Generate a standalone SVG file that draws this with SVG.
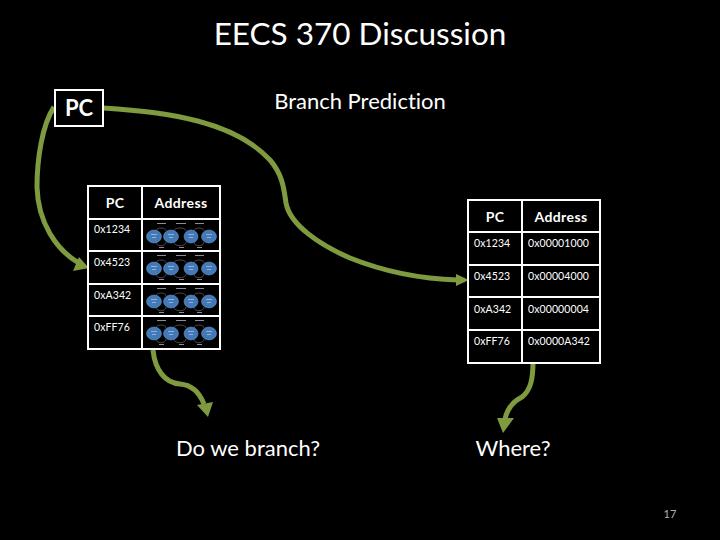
<svg xmlns="http://www.w3.org/2000/svg" width="720" height="540" viewBox="0 0 720 540">
<style>
text{font-family:"Lato","Carlito","Liberation Sans",sans-serif;fill:#fff;font-variant-ligatures:none}
.g{fill:none;stroke:#7f9a3f;stroke-width:5}
.h{fill:#7f9a3f}
.t{fill:none;stroke:#fff;stroke-width:2}
.big{font-size:22px}
.title{font-size:31.500px}
.hd{font-size:14px;font-weight:700;letter-spacing:.4px}
.c{font-size:10.500px;letter-spacing:.1px}
.e{fill:#4479b8;stroke:#6f9fd6;stroke-width:.5}
.l{fill:none;stroke:#70757c;stroke-width:.6}
.d{fill:#8b8f95}
.p{fill:#8fb2d8}
.n{font-size:11px;fill:#b0b0b0}
</style>
<defs>
<g id="fsm">
<path class="l" d="M11 5C11 1 21 1 21 5M29 5C29 1 41 1 41 5M49 5C49 1 59 1 59 5M11 16C11 21 21 21 21 16M29 16C29 21 41 21 41 16M49 16C49 21 59 21 59 16"/>
<ellipse class="e" cx="9" cy="10.500" rx="7.500" ry="6.500"/>
<ellipse class="e" cx="26" cy="10.500" rx="7.500" ry="6.500"/>
<ellipse class="e" cx="46" cy="10.500" rx="7" ry="6.500"/>
<ellipse class="e" cx="64" cy="10.500" rx="7.500" ry="6.500"/>
<rect class="p" x="6" y="8" width="6" height="1"/><rect class="p" x="7" y="11" width="4" height="1"/>
<rect class="p" x="23" y="8" width="6" height="1"/><rect class="p" x="24" y="11" width="4" height="1"/>
<rect class="p" x="43" y="8" width="6" height="1"/><rect class="p" x="44" y="11" width="4" height="1"/>
<rect class="p" x="61" y="8" width="6" height="1"/><rect class="p" x="62" y="11" width="4" height="1"/>
<rect class="d" x="12" y="-3" width="9" height="1"/><rect class="d" x="31" y="-3" width="10" height="1"/><rect class="d" x="50" y="-3" width="9" height="1"/>
<rect class="d" x="14" y="21" width="5" height="1"/><rect class="d" x="34" y="21" width="5" height="1"/><rect class="d" x="52" y="21" width="5" height="1"/>
</g>
</defs>
<rect width="720" height="540" fill="#000"/>
<text class="title" x="360" y="45" text-anchor="middle">EECS 370 Discussion</text>
<text class="big" x="360" y="109" text-anchor="middle">Branch Prediction</text>
<g id="connectors">
<path class="g" d="M103 108C170 112 235 122 270 160C283 175 284 190 286 203C290 225 320 245 350 258C385 272 425 279 458 280"/>
<path class="h" d="M469 280L456 274L456 286Z"/>
<path class="g" d="M54 107C42 125 37 160 37 187C38 222 56 250 79 263"/>
<path class="h" d="M89 268L73 271L79 257Z"/>
<path class="g" d="M153 350C155 370 165 383 180 384C193 385 200 394 204 404"/>
<path class="h" d="M208 417L197 405L213 402Z"/>
<path class="g" d="M533 362C533 378 531 390 522 397C512 402 507 410 505 419"/>
<path class="h" d="M503 433L497 418L514 418Z"/>
</g>
<g id="pc-box"><rect class="t" x="55" y="90" width="48" height="36"/><text class="big" x="79" y="116" text-anchor="middle" font-weight="700">PC</text></g>
<g id="table-left">
<path class="t" d="M88 186H220V349H88ZM142 186V349M88 219H220M88 251H220M88 284H220M88 316H220"/>
<use href="#fsm" x="145" y="226"/><use href="#fsm" x="145" y="258"/><use href="#fsm" x="145" y="291"/><use href="#fsm" x="145" y="323"/>
<text class="hd" x="115" y="208" text-anchor="middle">PC</text>
<text class="hd" x="181" y="208" text-anchor="middle">Address</text>
<text class="c" x="94" y="233">0x1234</text>
<text class="c" x="94" y="266">0x4523</text>
<text class="c" x="94" y="299">0xA342</text>
<text class="c" x="94" y="331">0xFF76</text>
</g>
<g id="table-right">
<path class="t" d="M468 200H600V363H468ZM522 200V363M468 232H600M468 265H600M468 297H600M468 330H600"/>
<text class="hd" x="495" y="222" text-anchor="middle">PC</text>
<text class="hd" x="561" y="222" text-anchor="middle">Address</text>
<text class="c" x="474" y="247">0x1234</text>
<text class="c" x="474" y="280">0x4523</text>
<text class="c" x="474" y="313">0xA342</text>
<text class="c" x="474" y="345">0xFF76</text>
<text class="c" x="528" y="247">0x00001000</text>
<text class="c" x="528" y="280">0x00004000</text>
<text class="c" x="528" y="313">0x00000004</text>
<text class="c" x="528" y="345">0x0000A342</text>
</g>
<text class="big" x="248" y="456" text-anchor="middle">Do we branch?</text>
<text class="big" x="513" y="456" text-anchor="middle">Where?</text>
<text class="n" x="670" y="518" text-anchor="middle">17</text>
</svg>
